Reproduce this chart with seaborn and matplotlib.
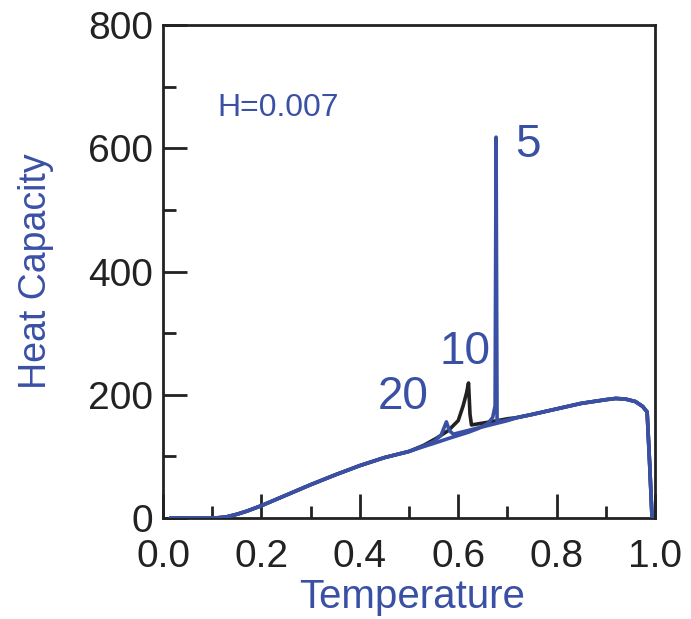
import numpy as np
import pandas as pd
import matplotlib
matplotlib.use("Agg")
import matplotlib.pyplot as plt
import seaborn as sns
from matplotlib.ticker import MultipleLocator

# ---- data ----
base_T = [0.015, 0.08, 0.10, 0.11, 0.12, 0.13, 0.14, 0.15, 0.17, 0.20, 0.25, 0.30,
          0.35, 0.40, 0.45, 0.50]
base_C = [0, 0, 0, 0.3, 1, 2, 4, 6, 11, 20, 37, 54, 70, 85, 98, 108]

high_T = [0.72, 0.75, 0.80, 0.85, 0.90, 0.92, 0.94, 0.96, 0.975, 0.984, 0.989, 0.994]
high_C = [163, 168, 177, 186, 192, 194, 193, 189, 181, 172, 90, 0]

# L = 20 (blue)
l20_T = [0.53, 0.55, 0.565, 0.576, 0.582, 0.59, 0.62, 0.65, 0.68, 0.70]
l20_C = [117, 124, 134, 156, 142, 136, 142, 148, 154, 158]

# L = 10 (black)
l10_T = [0.53, 0.557, 0.58, 0.60, 0.61, 0.617, 0.621, 0.624, 0.627, 0.65, 0.68, 0.70]
l10_C = [118, 130, 142, 158, 182, 203, 219, 168, 151, 154, 158, 161]

# L = 5 (blue)
l5_T = [0.53, 0.55, 0.58, 0.60, 0.62, 0.64, 0.66, 0.670, 0.675, 0.677, 0.679, 0.69, 0.70]
l5_C = [116, 121, 129, 134, 139, 145, 153, 163, 182, 618, 157, 157, 159]

sizes = ["20", "10", "5"]

BLUE = "#3a50a5"
DARK = "#222222"

frames = []
for name, t, c in [("20", l20_T, l20_C), ("10", l10_T, l10_C), ("5", l5_T, l5_C)]:
    T = base_T + t + high_T
    C = base_C + c + high_C
    frames.append(pd.DataFrame({"Temperature": T, "Heat Capacity": C, "L": name}))
df = pd.concat(frames, ignore_index=True)

sns.set_theme(style="white")
plt.rcParams["font.family"] = ["Liberation Sans", "DejaVu Sans"]

fig = plt.figure(figsize=(6.91, 6.19), dpi=100)
ax = fig.add_axes([163 / 691, 1 - 518 / 619, 492 / 691, 493 / 619])

palette = {"20": BLUE, "10": DARK, "5": BLUE}
for name in ["10", "20", "5"]:
    sub = df[df["L"] == name]
    sns.lineplot(data=sub, x="Temperature", y="Heat Capacity", color=palette[name],
                 lw=2.6, ax=ax, sort=False, legend=False, zorder=3 if name != "10" else 2)

ax.set_xlim(0, 1.0)
ax.set_ylim(0, 800)
ax.xaxis.set_minor_locator(MultipleLocator(0.1))
ax.yaxis.set_major_locator(MultipleLocator(200))
ax.yaxis.set_minor_locator(MultipleLocator(100))
ax.set_xticks([0, 0.2, 0.4, 0.6, 0.8, 1.0])
ax.set_xticklabels(["0.0", "0.2", "0.4", "0.6", "0.8", "1.0"])

ax.tick_params(which="both", bottom=True, left=True, top=False, right=False)
ax.tick_params(which="major", direction="in", length=17, width=2, color=DARK,
               labelsize=28, labelcolor=DARK)
ax.tick_params(which="minor", direction="in", length=9, width=2, color=DARK)
ax.tick_params(axis="x", which="major", pad=15)
ax.tick_params(axis="y", which="major", pad=7)
for s in ax.spines.values():
    s.set_visible(True)
    s.set_color(DARK)
    s.set_linewidth(2)

ax.set_xlabel("Temperature", fontsize=29, color=BLUE)
ax.set_ylabel("Heat Capacity", fontsize=27, color=BLUE)
ax.xaxis.set_label_coords(0.506, -0.183)
ax.xaxis.label.set_verticalalignment("baseline")
ax.yaxis.set_label_coords(-0.258, 0.5)
ax.yaxis.label.set_verticalalignment("center")

ax.text(0.11, 665, "H=0.007", color=BLUE, fontsize=23, va="center", ha="left")
ax.text(0.715, 605, sizes[2], color=BLUE, fontsize=33, va="center", ha="left")
ax.text(0.563, 270, sizes[1], color=BLUE, fontsize=33, va="center", ha="left")
ax.text(0.437, 196, sizes[0], color=BLUE, fontsize=33, va="center", ha="left")

fig.savefig("out.png", dpi=100)
